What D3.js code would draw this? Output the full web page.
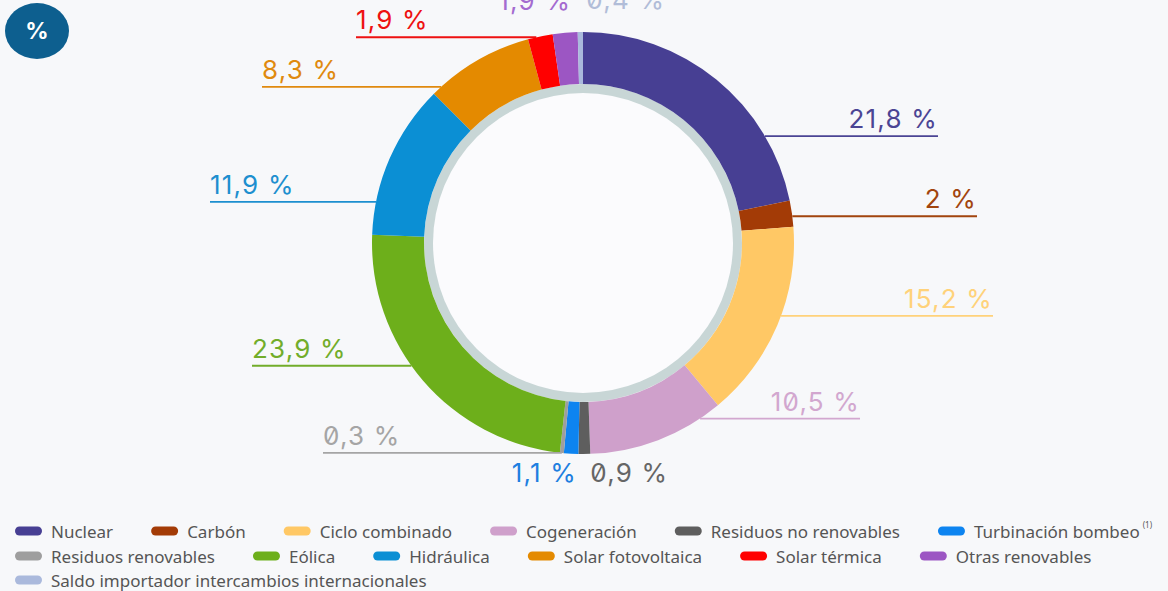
<!DOCTYPE html>
<html>
<head>
<meta charset="utf-8">
<script src="https://cdn.jsdelivr.net/npm/d3@7"></script>
<style>
  body { margin: 0; background: #f7f8fa; }
  svg { display: block; }
</style>
</head>
<body>
<div id="chart"></div>
<script>
// generation mix, clockwise from 12 o'clock
var categories = ["Nuclear", "Carbón", "Ciclo combinado", "Cogeneración", "Residuos no renovables",
    "Turbinación bombeo", "Residuos renovables", "Eólica", "Hidráulica", "Solar fotovoltaica",
    "Solar térmica", "Otras renovables", "Saldo importador intercambios internacionales"];
var values = [21.8, 2, 15.2, 10.5, 0.9, 1.1, 0.3, 23.9, 11.9, 8.3, 1.9, 1.9, 0.4];
var valueLabels = ["21,8 %", "2 %", "15,2 %", "10,5 %", "0,9 %", "1,1 %", "0,3 %",
    "23,9 %", "11,9 %", "8,3 %", "1,9 %", "1,9 %", "0,4 %"];
var colors = ["#473f93", "#a33b06", "#ffc865", "#cfa0cb", "#5e5e5e", "#0d84f0", "#9e9e9e",
    "#6daf1b", "#0b8fd4", "#e48a00", "#ff0000", "#9c56c3", "#aab9dc"];
var textColors = ["#4b4594", "#a2450e", "#ffd27a", "#d2a7cf", "#666666", "#1e7fe0", "#a5a5a5",
    "#72ad2a", "#1d8fcf", "#e08a0e", "#ee1111", "#a46bd0", "#b1bdd8"];
var legendBreaks = [6, 12];   // legend items that start a new row
var legendNote = "(1)";       // footnote on Turbinación bombeo

// label layout: where along the slice the leader leaves, where its text ends up
var labelFrac = [0.76, 0.6, 0.45, 0.16, 0.5, 0.5, 0.5, 0.56, 0.21, 0.09, 0.34, 0.5, 0.5];
var labelX    = [938, 977, 993, 860, null, null, 323, 252, 210, 262, 356, null, null];

var W = 1168, H = 591;
var cx = 583, cy = 243, rOuter = 211, rInner = 159, rBand = 150;

var svg = d3.select("#chart").append("svg")
    .attr("width", W).attr("height", H)
    .style("font-family", "Inter, 'Noto Sans', sans-serif");

svg.append("rect").attr("width", W).attr("height", H).attr("fill", "#f7f8fa");

// % badge
svg.append("ellipse")
    .attr("cx", 37).attr("cy", 31).attr("rx", 32).attr("ry", 28)
    .attr("fill", "#0d5f8f");
svg.append("text")
    .attr("x", 37).attr("y", 31)
    .attr("text-anchor", "middle").attr("dominant-baseline", "central")
    .attr("fill", "#fff").style("font-size", "23px").style("font-weight", 700)
    .text("%");

var pie = d3.pie().sort(null).value(function(d) { return d; });
var arcs = pie(values);

var g = svg.append("g").attr("transform", `translate(${cx},${cy})`);

// inner band + hole
g.append("circle").attr("r", rInner).attr("fill", "#c8d6d6");
g.append("circle").attr("r", rBand).attr("fill", "#fbfbfd");

var arc = d3.arc().innerRadius(rInner).outerRadius(rOuter);

g.selectAll("path.slice")
    .data(arcs)
    .enter()
    .append("path")
    .attr("class", "slice")
    .attr("d", arc)
    .attr("fill", function(d, i) { return colors[i]; });

// value labels
var labels = svg.append("g")
    .style("font-size", "26px")
    .style("letter-spacing", "1.2px")
    .style("font-feature-settings", "'zero' 1");

arcs.forEach(function(d, i) {
    var a = d.startAngle + (d.endAngle - d.startAngle) * labelFrac[i];
    var ex = cx + rOuter * Math.sin(a);
    var ey = cy - rOuter * Math.cos(a);
    var col = textColors[i];
    if (labelX[i] !== null) {
        var right = labelX[i] > cx;
        labels.append("line")
            .attr("x1", ex).attr("y1", ey)
            .attr("x2", labelX[i]).attr("y2", ey)
            .attr("stroke", col).attr("stroke-width", 1.8);
        labels.append("text")
            .attr("x", labelX[i]).attr("y", ey - 8)
            .attr("text-anchor", right ? "end" : "start")
            .attr("fill", col)
            .text(valueLabels[i]);
    } else {
        var top = Math.cos(a) > 0;
        var leftSide = (i === 5 || i === 11);
        labels.append("text")
            .attr("x", ex + 6)
            .attr("y", top ? ey - 23 : ey + 28)
            .attr("text-anchor", leftSide ? "end" : "start")
            .attr("fill", col)
            .text(valueLabels[i]);
    }
});

// legend
var legend = svg.append("g")
    .style("font-family", "'Noto Sans', sans-serif")
    .style("font-size", "17px");
var lx = 15, row = 0, rowY = [531, 556, 580];
categories.forEach(function(c, i) {
    if (legendBreaks.indexOf(i) >= 0) { row++; lx = 15; }
    var y = rowY[row];
    legend.append("rect")
        .attr("x", lx).attr("y", y - 4.5)
        .attr("width", 27).attr("height", 9).attr("rx", 4.5)
        .attr("fill", colors[i]);
    var t = legend.append("text")
        .attr("x", lx + 36).attr("y", y)
        .attr("dominant-baseline", "central")
        .attr("fill", "#555")
        .text(c);
    if (c === "Turbinación bombeo") {
        t.append("tspan")
            .attr("dx", 3).attr("dy", -7)
            .style("font-size", "8px")
            .text(legendNote);
    }
    lx = lx + 36 + t.node().getComputedTextLength() + 38;
});
</script>
</body>
</html>
